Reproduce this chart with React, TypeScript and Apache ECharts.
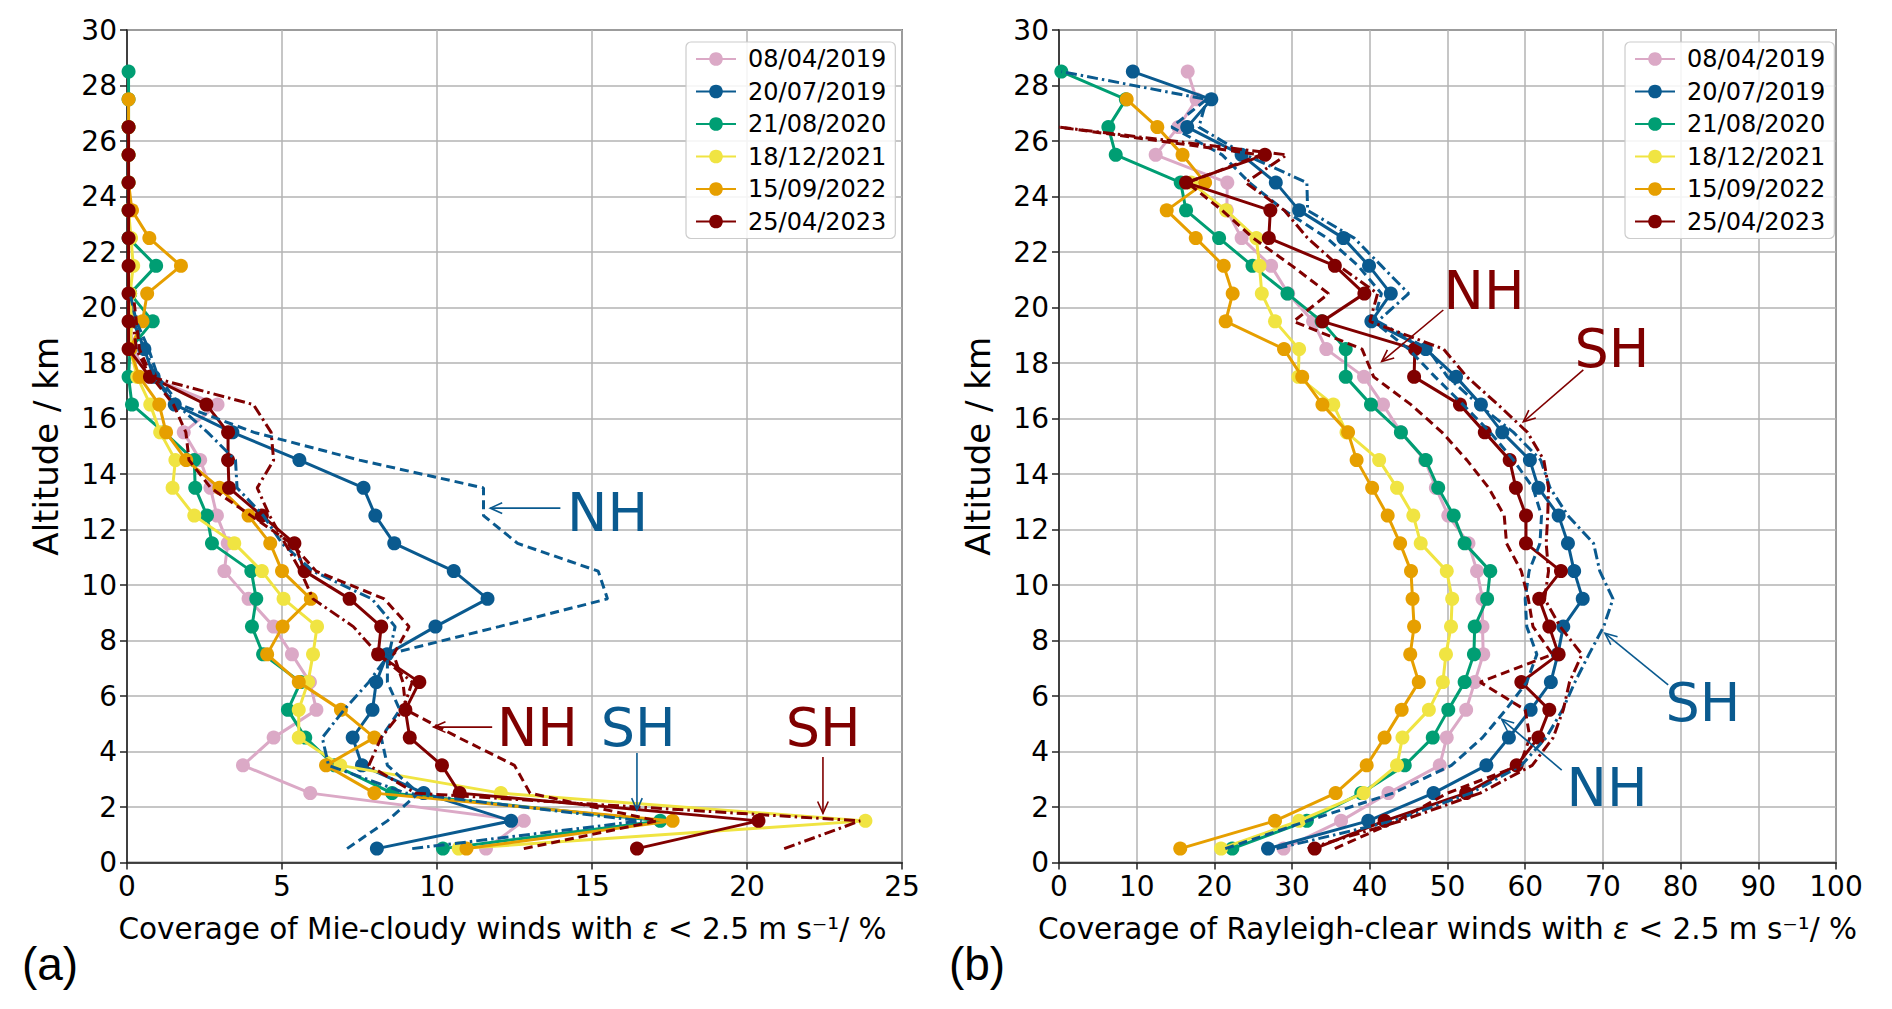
import { useEffect, useRef } from "react";
import * as echarts from "echarts";

// altitude levels (km) shared by every profile, bottom to top
const ALTITUDES = [
  0.5, 1.5, 2.5, 3.5, 4.5, 5.5, 6.5, 7.5, 8.5, 9.5, 10.5, 11.5, 12.5, 13.5, 14.5,
  15.5, 16.5, 17.5, 18.5, 19.5, 20.5, 21.5, 22.5, 23.5, 24.5, 25.5, 26.5, 27.5, 28.5,
];

const DATES = ["08/04/2019", "20/07/2019", "21/08/2020", "18/12/2021", "15/09/2022", "25/04/2023"];
const PINK = "#dba9c6";
const BLUE = "#0a5a8f";
const GREEN = "#009e73";
const YELLOW = "#f0e442";
const ORANGE = "#e69f00";
const RED = "#800000";
const COLORS = [PINK, BLUE, GREEN, YELLOW, ORANGE, RED];

// (a) Mie-cloudy coverage, %, from 0.5 km upward
const mie0804 = [11.58, 12.8, 5.91, 3.74, 4.73, 6.11, 5.9, 5.32, 4.73, 3.92, 3.14, 3.25, 2.9, 2.69, 2.36, 1.83, 2.92, 0.7, 0.2, 0.1, 0.05];
const mie2007 = [8.06, 12.39, 9.57, 7.58, 7.28, 7.92, 8.04, 8.39, 9.95, 11.63, 10.54, 8.62, 8.01, 7.63, 5.56, 3.4, 1.54, 0.86, 0.56, 0.2, 0.1];
const mie2108 = [10.19, 17.2, 8.55, 6.7, 5.75, 5.19, 5.6, 4.39, 4.03, 4.17, 4.01, 2.74, 2.58, 2.2, 2.17, 1.2, 0.16, 0.05, 0.1, 0.83, 0.1, 0.94, 0.05, 0.05, 0.05, 0.05, 0.05, 0.05, 0.05];
const mie1812 = [10.7, 23.82, 12.06, 6.88, 5.54, 5.54, 5.84, 6.0, 6.13, 5.05, 4.35, 3.46, 2.17, 1.47, 1.56, 1.07, 0.75, 0.33, 0.1, 0.15, 0.1, 0.2, 0.13, 0.05];
const mie1509 = [10.95, 17.6, 7.98, 6.42, 7.98, 6.9, 5.54, 4.52, 5.02, 5.93, 5.0, 4.62, 3.92, 2.98, 1.91, 1.26, 1.04, 0.4, 0.1, 0.5, 0.65, 1.74, 0.72, 0.16, 0.05, 0.05, 0.05, 0.05];
const mie2504 = [16.45, 20.37, 10.73, 10.16, 9.12, 8.98, 9.43, 8.1, 8.2, 7.18, 5.73, 5.4, 4.35, 3.29, 3.26, 3.26, 2.56, 0.74, 0.05, 0.05, 0.05, 0.05, 0.05, 0.05, 0.05, 0.05, 0.05];
// hemispheric profiles of 20/07/2019 and 25/04/2023
const mie2007NH = [7.1, 8.4, 9.4, 8.4, 8.2, 8.8, 8.4, 8.4, 12.0, 15.5, 15.2, 12.6, 11.5, 11.5, 7.5, 4.1, 1.7, 1.0, 0.7, 0.3, 0.1];
const mie2007SH = [9.2, 16.6, 9.0, 6.5, 6.3, 7.0, 7.8, 8.45, 8.65, 7.9, 6.0, 5.0, 4.4, 3.55, 3.5, 2.6, 1.6, 0.9, 0.6, 0.2];
const mie2504NH = [12.8, 17.1, 13.0, 12.5, 10.7, 9.0, 8.9, 8.6, 9.1, 8.3, 6.1, 5.3, 4.0, 2.7, 2.0, 1.9, 1.5, 0.8, 0.4, 0.3, 0.2];
const mie2504SH = [21.2, 23.65, 9.3, 7.8, 8.2, 8.9, 9.2, 8.1, 7.3, 6.0, 5.6, 5.1, 4.6, 4.2, 4.73, 4.65, 4.08, 0.75, 0.3, 0.2];

// (b) Rayleigh-clear coverage, %, from 0.5 km upward
const ray0804 = [28.9, 36.3, 42.4, 49.0, 49.9, 52.4, 53.5, 54.6, 54.5, 54.5, 53.8, 52.7, 50.1, 48.5, 47.1, 44.0, 41.7, 39.25, 34.4, 32.7, 29.5, 27.3, 23.5, 21.6, 21.66, 12.44, 15.36, 17.7, 16.56];
const ray2007 = [26.9, 39.8, 48.2, 55.0, 57.9, 60.7, 63.3, 64.2, 64.9, 67.4, 66.3, 65.5, 64.3, 61.7, 60.6, 57.05, 54.3, 51.1, 47.2, 40.2, 42.7, 39.9, 36.6, 30.9, 27.9, 23.5, 16.5, 19.6, 9.5];
const ray2108 = [22.3, 31.9, 38.9, 44.5, 48.1, 50.1, 52.2, 53.4, 53.5, 55.1, 55.5, 52.2, 50.8, 48.8, 47.2, 44.0, 40.15, 36.9, 36.9, 33.8, 29.4, 24.9, 20.6, 16.35, 15.66, 7.3, 6.35, 8.6, 0.3];
const ray1812 = [20.85, 30.9, 39.2, 43.5, 44.2, 47.6, 49.4, 49.8, 50.45, 50.6, 49.9, 46.55, 45.6, 43.5, 41.2, 37.0, 35.3, 30.8, 30.9, 27.8, 26.1, 25.8, 25.4, 21.5, 17.0];
const ray1509 = [15.6, 27.8, 35.6, 39.6, 41.9, 44.1, 46.3, 45.2, 45.7, 45.5, 45.3, 43.9, 42.3, 40.3, 38.3, 37.2, 33.9, 31.3, 28.96, 21.45, 22.35, 21.2, 17.6, 13.86, 18.8, 15.9, 12.65, 8.71];
const ray2504 = [32.9, 41.9, 52.4, 58.9, 61.7, 63.1, 59.5, 64.3, 63.1, 61.8, 64.6, 60.1, 60.1, 58.8, 58.0, 54.8, 51.6, 45.7, 45.8, 33.9, 39.3, 35.5, 27.0, 27.2, 16.35, 26.5];
const ray2007NH = [21.4, 32.0, 43.0, 50.5, 54.5, 57.5, 60.2, 61.5, 60.2, 60.0, 60.5, 61.9, 62.1, 61.0, 58.5, 55.5, 52.0, 48.4, 45.0, 40.5, 41.5, 38.5, 34.5, 29.0, 24.5, 21.0, 14.5, 19.0];
const ray2007SH = [28.0, 43.0, 53.0, 59.5, 62.7, 64.8, 66.4, 68.2, 70.1, 71.3, 69.6, 68.8, 65.5, 63.2, 62.0, 58.5, 54.0, 50.0, 47.5, 41.0, 45.0, 41.5, 38.0, 32.0, 31.9, 24.0, 18.0, 19.0, 0.3];
const ray2504NH = [35.5, 43.5, 50.0, 59.3, 60.6, 60.0, 54.2, 63.5, 61.0, 60.4, 59.5, 57.6, 57.3, 55.3, 52.5, 49.3, 45.3, 40.5, 39.0, 30.2, 34.7, 30.0, 25.0, 21.0, 16.5, 26.0, 0.0];
const ray2504SH = [32.0, 44.0, 54.2, 60.9, 63.6, 64.9, 65.7, 67.3, 64.5, 62.5, 63.0, 62.7, 62.9, 63.0, 62.4, 60.3, 56.5, 52.5, 49.5, 40.0, 41.0, 36.0, 32.0, 29.0, 24.0, 29.3, 0.0];

const MIE = [mie0804, mie2007, mie2108, mie1812, mie1509, mie2504];
const RAY = [ray0804, ray2007, ray2108, ray1812, ray1509, ray2504];
const MIE_REGIONAL = [
  { values: mie2007NH, color: BLUE, dash: "dashed" },
  { values: mie2007SH, color: BLUE, dash: "dashdot" },
  { values: mie2504NH, color: RED, dash: "dashed" },
  { values: mie2504SH, color: RED, dash: "dashdot" },
];
const RAY_REGIONAL = [
  { values: ray2007NH, color: BLUE, dash: "dashed" },
  { values: ray2007SH, color: BLUE, dash: "dashdot" },
  { values: ray2504NH, color: RED, dash: "dashed" },
  { values: ray2504SH, color: RED, dash: "dashdot" },
];

// hemisphere labels: text centre, arrow tail, arrow head (data coords)
const NOTES = [
  { grid: 0, text: "NH", color: BLUE, at: [15.5, 12.63], from: [13.98, 12.77], to: [11.72, 12.77] },
  { grid: 0, text: "NH", color: RED, at: [13.24, 4.88], from: [11.78, 4.88], to: [9.89, 4.88] },
  { grid: 0, text: "SH", color: BLUE, at: [16.49, 4.88], from: [16.45, 3.95], to: [16.45, 1.89] },
  { grid: 0, text: "SH", color: RED, at: [22.46, 4.88], from: [22.45, 3.8], to: [22.45, 1.77] },
  { grid: 1, text: "NH", color: RED, at: [54.7, 20.63], from: [49.46, 19.91], to: [41.53, 18.05] },
  { grid: 1, text: "SH", color: RED, at: [71.17, 18.54], from: [67.48, 17.75], to: [59.76, 15.88] },
  { grid: 1, text: "SH", color: BLUE, at: [82.88, 5.75], from: [78.4, 6.4], to: [70.27, 8.26] },
  { grid: 1, text: "NH", color: BLUE, at: [70.53, 2.72], from: [64.7, 3.33], to: [56.98, 5.16] },
];

const FONT = "DejaVu Sans";
const DASHES: Record<string, number[]> = { dashed: [9, 5], dashdot: [11, 4, 2.5, 4] };

function toPairs(values: number[]) {
  return values.map((v, i) => [v, ALTITUDES[i]]);
}

function valueAxis(gridIndex: number, max: number, interval: number, name: string, pad: number[]) {
  return {
    type: "value",
    gridIndex,
    min: 0,
    max,
    interval,
    name,
    nameLocation: "middle",
    nameGap: 51,
    nameTextStyle: {
      color: "#000",
      fontSize: 29.5,
      fontFamily: FONT,
      padding: pad,
      rich: { e: { fontStyle: "italic", fontSize: 29.5, fontFamily: FONT, color: "#000" } },
    },
    axisLine: { show: true, onZero: false, lineStyle: { color: "#222", width: 1.5 } },
    axisTick: { show: true, length: 7, lineStyle: { color: "#222", width: 1.5 } },
    axisLabel: { color: "#000", fontSize: 28, fontFamily: FONT, margin: 10 },
    splitLine: { show: true, lineStyle: { color: "#b3b3b3", width: 1.5 } },
  };
}

function altitudeAxis(gridIndex: number) {
  return {
    type: "value",
    gridIndex,
    min: 0,
    max: 30,
    interval: 2,
    name: "Altitude / km",
    nameLocation: "middle",
    nameGap: 64,
    nameTextStyle: { color: "#000", fontSize: 34, fontFamily: FONT },
    axisLine: { show: true, onZero: false, lineStyle: { color: "#222", width: 1.5 } },
    axisTick: { show: true, length: 7, lineStyle: { color: "#222", width: 1.5 } },
    axisLabel: { color: "#000", fontSize: 28, fontFamily: FONT, margin: 10 },
    splitLine: { show: true, lineStyle: { color: "#b3b3b3", width: 1.5 } },
  };
}

function legend(left: number) {
  return {
    left,
    top: 42,
    orient: "vertical",
    data: DATES,
    itemWidth: 40,
    itemHeight: 17,
    itemGap: 8.5,
    padding: [5, 9, 5, 9],
    borderColor: "#cccccc",
    borderWidth: 1.2,
    borderRadius: 5,
    backgroundColor: "rgba(255,255,255,0.85)",
    selectedMode: false,
    textStyle: { color: "#000", fontSize: 24, fontFamily: FONT, padding: [0, 0, 0, 7] },
  };
}

export default function App() {
  const chartRef = useRef<HTMLDivElement>(null);

  useEffect(() => {
    if (!chartRef.current) return;
    const chart = echarts.init(chartRef.current, null, { renderer: "svg" });

    const series: any[] = [];
    [MIE, RAY].forEach((panel, g) => {
      panel.forEach((values, k) => {
        series.push({
          type: "line",
          name: DATES[k],
          xAxisIndex: g,
          yAxisIndex: g,
          data: toPairs(values),
          color: COLORS[k],
          symbol: "circle",
          symbolSize: 14,
          lineStyle: { width: 3, color: COLORS[k] },
          itemStyle: { color: COLORS[k] },
          z: 2 + k,
        });
      });
    });
    [MIE_REGIONAL, RAY_REGIONAL].forEach((panel, g) => {
      panel.forEach((r, k) => {
        series.push({
          type: "line",
          name: `regional-${g}-${k}`,
          xAxisIndex: g,
          yAxisIndex: g,
          data: toPairs(r.values),
          showSymbol: false,
          symbol: "none",
          lineStyle: { width: 3, color: r.color, type: DASHES[r.dash] },
          z: 10,
        });
      });
    });

    chart.setOption({
      animation: false,
      backgroundColor: "#fff",
      grid: [
        { left: 127, top: 30, width: 775, height: 832.5, show: true, borderColor: "#222", borderWidth: 1.5, backgroundColor: "transparent" },
        { left: 1059, top: 30, width: 777, height: 832.5, show: true, borderColor: "#222", borderWidth: 1.5, backgroundColor: "transparent" },
      ],
      xAxis: [
        valueAxis(0, 25, 5, "Coverage of Mie-cloudy winds with {e|ε} < 2.5 m s⁻¹/ %", [0, 24, 0, 0]),
        valueAxis(1, 100, 10, "Coverage of Rayleigh-clear winds with {e|ε} < 2.5 m s⁻¹/ %", [0, 0, 0, 0]),
      ],
      yAxis: [altitudeAxis(0), altitudeAxis(1)],
      legend: [legend(686), legend(1625)],
      series,
    });

    // annotations placed through the axes
    const graphic: any[] = [];
    NOTES.forEach((n) => {
      const at = chart.convertToPixel({ gridIndex: n.grid }, n.at) as number[];
      const from = chart.convertToPixel({ gridIndex: n.grid }, n.from) as number[];
      const to = chart.convertToPixel({ gridIndex: n.grid }, n.to) as number[];
      graphic.push({
        type: "text",
        x: at[0],
        y: at[1],
        style: { text: n.text, fill: n.color, font: `54px "${FONT}"`, align: "center", verticalAlign: "middle" },
        z: 50,
      });
      graphic.push({
        type: "line",
        shape: { x1: from[0], y1: from[1], x2: to[0], y2: to[1] },
        style: { stroke: n.color, lineWidth: 1.6 },
        z: 50,
      });
      const ang = Math.atan2(to[1] - from[1], to[0] - from[0]);
      const len = 13;
      const spread = 0.42;
      graphic.push({
        type: "polyline",
        shape: {
          points: [
            [to[0] - len * Math.cos(ang - spread), to[1] - len * Math.sin(ang - spread)],
            [to[0], to[1]],
            [to[0] - len * Math.cos(ang + spread), to[1] - len * Math.sin(ang + spread)],
          ],
        },
        style: { stroke: n.color, lineWidth: 1.6, fill: null },
        z: 50,
      });
    });
    graphic.push({
      type: "text",
      x: 50,
      y: 964,
      style: { text: "(a)", fill: "#000", font: '46px "Liberation Sans"', align: "center", verticalAlign: "middle" },
    });
    graphic.push({
      type: "text",
      x: 977,
      y: 964,
      style: { text: "(b)", fill: "#000", font: '46px "Liberation Sans"', align: "center", verticalAlign: "middle" },
    });
    chart.setOption({ graphic });

    return () => {
      chart.dispose();
    };
  }, []);

  return (
    <div
      ref={chartRef}
      style={{ position: "fixed", left: 0, top: 0, width: "1892px", height: "1009px", background: "#fff" }}
    />
  );
}
